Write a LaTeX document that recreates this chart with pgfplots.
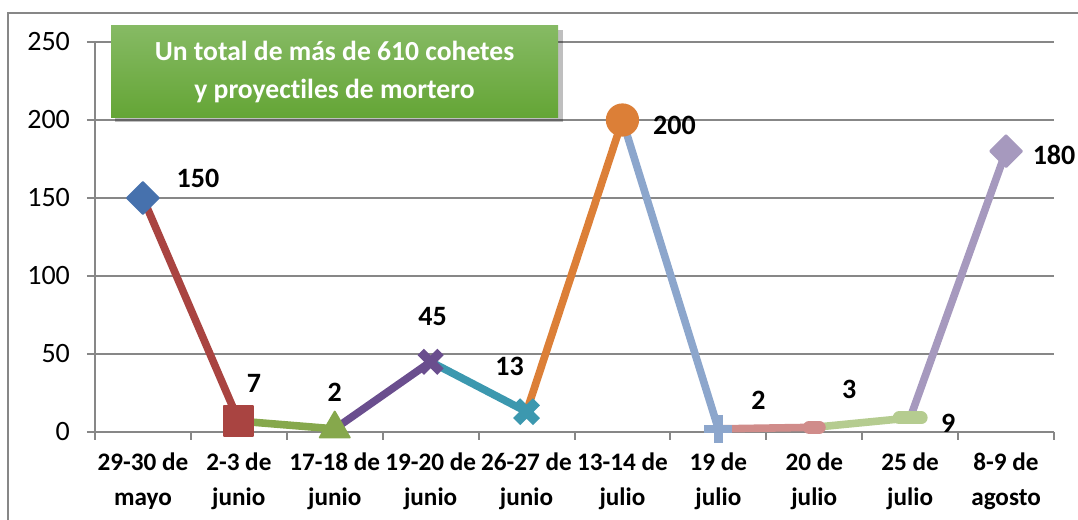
\documentclass[border=0pt]{standalone}
\usepackage{fontspec}
\setmainfont[Ligatures=NoCommon]{Carlito}
\usepackage{pgfplots}
\pgfplotsset{compat=1.18}
\definecolor{gridgray}{HTML}{878787}
\definecolor{cA}{HTML}{4671AD}
\definecolor{cB}{HTML}{A94441}
\definecolor{cC}{HTML}{86A84C}
\definecolor{cD}{HTML}{6A4E8E}
\definecolor{cE}{HTML}{3C98AF}
\definecolor{cF}{HTML}{DC7F37}
\definecolor{cG}{HTML}{8CA6CC}
\definecolor{cH}{HTML}{D08C8A}
\definecolor{cI}{HTML}{B5CC90}
\definecolor{cJ}{HTML}{A699BE}
\definecolor{boxtop}{HTML}{86BA64}
\definecolor{boxbot}{HTML}{64A535}
\begin{document}
\begin{tikzpicture}[font=\fontsize{12.5}{17.5}\selectfont]
\begin{axis}[
  scale only axis, width=479.5pt, height=195pt,
  at={(0,0)}, anchor=south west,
  xmin=0.5, xmax=10.5, ymin=0, ymax=250,
  axis x line*=bottom, axis y line*=left,
  axis line style={-, draw=gridgray, line width=1pt},
  ytick={0,50,...,250},
  ymajorgrids, grid style={draw=gridgray, line width=1pt},
  xtick={1,...,10},
  xticklabels={29-30 de\\mayo, 2-3 de\\junio, 17-18 de\\junio, 19-20 de\\junio, 26-27 de\\junio, 13-14 de\\julio, 19 de\\julio, 20 de\\julio, 25 de\\julio, 8-9 de\\agosto},
  major x tick style={draw=none},
  minor xtick={0.5,1.5,...,10.5},
  tick align=outside, major tick length=4pt, minor tick length=4pt,
  tick style={draw=gridgray, line width=1pt},
  xticklabel style={align=center, font=\fontsize{12.6}{17.5}\selectfont\bfseries, yshift=-3pt},
  yticklabel style={font=\fontsize{14}{16}\selectfont, xshift=-5pt},
  /pgf/number format/assume math mode=true,
  clip=false,
  line join=round,
]
% segments
\addplot[cB, line width=3.8pt] coordinates {(1,150) (2,7)};
\addplot[cC, line width=3.8pt] coordinates {(2,7) (3,2)};
\addplot[cD, line width=3.8pt] coordinates {(3,2) (4,45)};
\addplot[cE, line width=3.8pt] coordinates {(4,45) (5,13)};
\addplot[cF, line width=3.8pt] coordinates {(5,13) (6,200)};
\addplot[cG, line width=3.8pt] coordinates {(6,200) (7,2)};
\addplot[cH, line width=3.8pt] coordinates {(7,2) (8,3)};
\addplot[cI, line width=3.8pt] coordinates {(8,3) (9,9)};
\addplot[cJ, line width=3.8pt] coordinates {(9,9) (10,180)};
% markers
\addplot[only marks, mark=square*, mark size=5.6pt, mark options={rotate=45, fill=cA, draw=cA, line width=1pt, rounded corners=1.5pt}] coordinates {(1,150)};
\addplot[only marks, mark=square*, mark size=7.3pt, mark options={fill=cB, draw=cB, line width=1pt, rounded corners=2pt}] coordinates {(2,7)};
\addplot[only marks, mark=triangle*, mark size=8.6pt, mark options={fill=cC, draw=cC, line width=1pt, rounded corners=1.5pt}] coordinates {(3,2)};
\addplot[only marks, mark=x, mark size=7pt, mark options={draw=cD, line width=4.5pt}] coordinates {(4,45)};
\addplot[only marks, mark=x, mark size=7pt, mark options={draw=cE, line width=5pt}] coordinates {(5,13)};
\addplot[only marks, mark=*, mark size=7.8pt, mark options={fill=cF, draw=cF, line width=1pt}] coordinates {(6,200)};
\addplot[only marks, mark=+, mark size=7pt, mark options={draw=cG, line width=4.2pt}] coordinates {(7,2)};
\addplot[only marks, mark=-, mark size=2.5pt, mark options={draw=cH, line width=6.5pt, line cap=round}] coordinates {(8,3)};
\addplot[only marks, mark=-, mark size=5.5pt, mark options={draw=cI, line width=6.5pt, line cap=round}] coordinates {(9,9)};
\addplot[only marks, mark=square*, mark size=5.6pt, mark options={rotate=45, fill=cJ, draw=cJ, line width=1pt, rounded corners=1.5pt}] coordinates {(10,180)};
% data labels
\begin{scope}[every node/.style={font=\fontsize{14}{16}\selectfont\bfseries}]
\node at (axis cs:1,150) [xshift=27.5pt, yshift=10pt] {150};
\node at (axis cs:2,7) [xshift=7.5pt, yshift=19pt] {7};
\node at (axis cs:3,2) [xshift=0pt, yshift=18.5pt] {2};
\node at (axis cs:4,45) [xshift=1pt, yshift=22.5pt] {45};
\node at (axis cs:5,13) [xshift=-8.5pt, yshift=22.5pt] {13};
\node at (axis cs:6,200) [xshift=26pt, yshift=-2.5pt] {200};
\node at (axis cs:7,2) [xshift=20pt, yshift=14.5pt] {2};
\node at (axis cs:8,3) [xshift=17.5pt, yshift=19pt] {3};
\node at (axis cs:9,9) [xshift=19pt, yshift=-2.5pt] {9};
\node at (axis cs:10,180) [xshift=24pt, yshift=-2pt] {180};
\end{scope}
\end{axis}
% outer chart frame (left and top edges)
\draw[gridgray, line width=1pt] (-43.5pt,-50pt) -- (-43.5pt,209.5pt) -- (500pt,209.5pt);
% title box with shadow
\fill[black, opacity=0.25] (10pt,155pt) rectangle (234pt,201pt);
\shade[top color=boxtop, bottom color=boxbot] (8pt,157pt) rectangle (231.5pt,203pt);
\node[text=white, font=\fontsize{13.8}{19}\selectfont\bfseries, align=center] at (119.75pt,180pt) {Un total de más de 610 cohetes\\y proyectiles de mortero};
\pgfresetboundingbox
\path[use as bounding box] (-47.5pt,-44pt) rectangle (491.5pt,216pt);
\end{tikzpicture}
\end{document}
